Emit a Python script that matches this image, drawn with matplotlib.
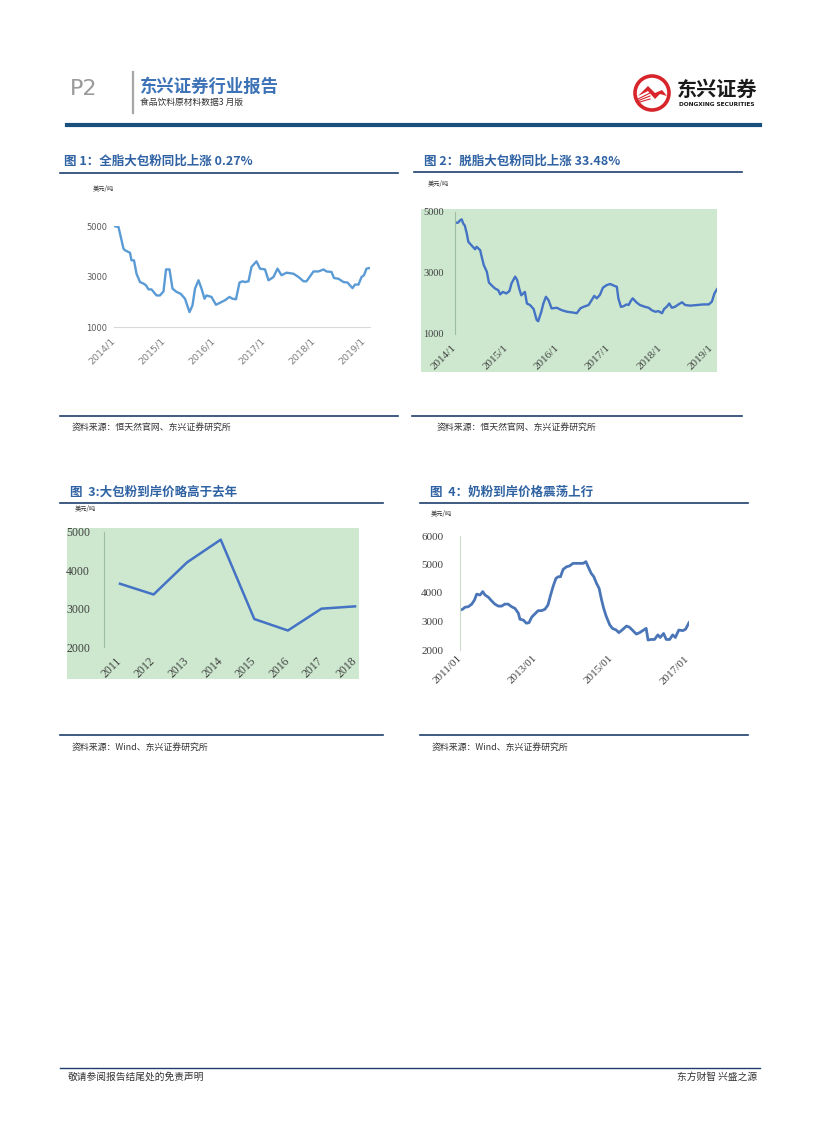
import matplotlib
matplotlib.use("Agg")
import matplotlib.pyplot as plt
from matplotlib.patches import Rectangle, Circle, Polygon

plt.rcParams['font.family'] = ['Noto Sans CJK SC', 'DejaVu Sans']

# 图1 全脂大包粉 (美元/吨)
wmp_t = [2014.0, 2014.09, 2014.19, 2014.22, 2014.32, 2014.35, 2014.4, 2014.45, 2014.52, 2014.59,
         2014.64, 2014.69, 2014.75, 2014.85, 2014.92, 2014.99, 2015.04, 2015.11, 2015.17, 2015.25,
         2015.33, 2015.42, 2015.51, 2015.57, 2015.62, 2015.69, 2015.75, 2015.81, 2015.85, 2015.95,
         2016.04, 2016.12, 2016.22, 2016.31, 2016.37, 2016.44, 2016.51, 2016.57, 2016.62, 2016.69,
         2016.75, 2016.85, 2016.92, 2017.02, 2017.09, 2017.19, 2017.27, 2017.35, 2017.45, 2017.59,
         2017.69, 2017.79, 2017.85, 2017.99, 2018.09, 2018.19, 2018.25, 2018.35, 2018.4, 2018.49,
         2018.59, 2018.67, 2018.72, 2018.77, 2018.82, 2018.89, 2018.95, 2019.0, 2019.05, 2019.12]
wmp_v = [5000, 4960, 4100, 4040, 3940, 3640, 3640, 3110, 2780, 2720,
         2650, 2490, 2490, 2250, 2250, 2410, 3280, 3280, 2520, 2390,
         2320, 2120, 1590, 1860, 2520, 2850, 2520, 2120, 2250, 2190,
         1880, 1960, 2060, 2190, 2120, 2100, 2760, 2810, 2780, 2810,
         3380, 3600, 3310, 3280, 2850, 2980, 3310, 3050, 3150, 3110,
         2980, 2810, 2810, 3200, 3200, 3280, 3200, 3180, 2940, 2910,
         2780, 2760, 2650, 2540, 2680, 2680, 2980, 3050, 3310, 3340]

# 图2 脱脂大包粉 (美元/吨)
smp_t = [2014.0, 2014.06, 2014.1, 2014.13, 2014.16, 2014.19, 2014.23, 2014.26, 2014.32, 2014.39,
         2014.42, 2014.49, 2014.52, 2014.56, 2014.62, 2014.66, 2014.71, 2014.78, 2014.84, 2014.88,
         2014.93, 2015.0, 2015.06, 2015.1, 2015.17, 2015.21, 2015.25, 2015.29, 2015.36, 2015.4,
         2015.46, 2015.53, 2015.59, 2015.62, 2015.68, 2015.72, 2015.77, 2015.82, 2015.88, 2015.98,
         2016.08, 2016.18, 2016.31, 2016.37, 2016.44, 2016.5, 2016.6, 2016.66, 2016.71, 2016.76,
         2016.82, 2016.88, 2016.95, 2017.02, 2017.1, 2017.15, 2017.18, 2017.23, 2017.28, 2017.34,
         2017.38, 2017.42, 2017.46, 2017.53, 2017.6, 2017.7, 2017.77, 2017.83, 2017.9, 2017.96,
         2018.03, 2018.07, 2018.12, 2018.17, 2018.22, 2018.28, 2018.35, 2018.42, 2018.48, 2018.58,
         2018.71, 2018.84, 2018.94, 2019.0, 2019.05, 2019.1]
smp_v = [4650, 4650, 4730, 4760, 4620, 4560, 4290, 4020, 3910, 3780,
         3860, 3750, 3530, 3260, 3040, 2690, 2600, 2490, 2440, 2300,
         2380, 2330, 2410, 2660, 2880, 2770, 2490, 2270, 2380, 2000,
         1950, 1820, 1460, 1420, 1730, 2000, 2220, 2110, 1840, 1860,
         1780, 1730, 1700, 1680, 1840, 1890, 1950, 2110, 2250, 2170,
         2280, 2520, 2600, 2640, 2580, 2550, 2170, 1890, 1910, 1970,
         1950, 2080, 2170, 2040, 1950, 1890, 1860, 1780, 1730, 1750,
         1680, 1820, 1890, 2000, 1860, 1890, 1970, 2040, 1950, 1930,
         1950, 1970, 1970, 2060, 2330, 2470]

# 图3 大包粉到岸价 (年度)
cif_years = ['2011', '2012', '2013', '2014', '2015', '2016', '2017', '2018']
cif_v = [3650, 3370, 4210, 4800, 2730, 2430, 3000, 3060]

# 图4 奶粉到岸价格
mp_t = [2011.0, 2011.07, 2011.13, 2011.22, 2011.31, 2011.38, 2011.44, 2011.53, 2011.6, 2011.66,
        2011.75, 2011.83, 2011.92, 2012.01, 2012.1, 2012.18, 2012.27, 2012.36, 2012.45, 2012.54,
        2012.58, 2012.67, 2012.75, 2012.82, 2012.89, 2012.97, 2013.06, 2013.15, 2013.24, 2013.32,
        2013.39, 2013.46, 2013.53, 2013.59, 2013.65, 2013.72, 2013.81, 2013.89, 2013.98, 2014.07,
        2014.16, 2014.25, 2014.32, 2014.38, 2014.46, 2014.53, 2014.6, 2014.67, 2014.73, 2014.79,
        2014.86, 2014.95, 2015.02, 2015.12, 2015.19, 2015.3, 2015.39, 2015.47, 2015.56, 2015.65,
        2015.74, 2015.82, 2015.91, 2015.96, 2016.04, 2016.13, 2016.22, 2016.28, 2016.37, 2016.44,
        2016.53, 2016.61, 2016.68, 2016.77, 2016.88, 2016.95, 2017.04]
mp_v = [3400, 3430, 3500, 3520, 3610, 3750, 3960, 3930, 4050, 3930,
        3850, 3730, 3610, 3540, 3540, 3610, 3610, 3520, 3460, 3290,
        3080, 3050, 2940, 2960, 3150, 3260, 3380, 3380, 3430, 3580,
        3930, 4250, 4510, 4570, 4570, 4830, 4920, 4950, 5040, 5040,
        5040, 5040, 5100, 4920, 4690, 4570, 4340, 4160, 3780, 3460,
        3170, 2880, 2760, 2700, 2610, 2730, 2840, 2800, 2680, 2560,
        2610, 2680, 2760, 2350, 2370, 2370, 2530, 2440, 2580, 2370,
        2370, 2530, 2440, 2700, 2680, 2730, 2960]

W, H = 827, 1122
fig = plt.figure(figsize=(W / 100, H / 100), dpi=100)

# page layer in pixel coordinates
pg = fig.add_axes([0, 0, 1, 1])
pg.set_xlim(0, W)
pg.set_ylim(H, 0)
pg.axis('off')

navy = '#1F3F6E'
title_blue = '#2F62A3'

# header
pg.text(70, 89, 'P2', fontsize=16, color='#9A9A9A', va='center', family='DejaVu Sans')
pg.plot([133, 133], [72, 113], color='#A6A6A6', lw=1.6)
pg.text(140, 87, '东兴证券行业报告', fontsize=12.5, fontweight='bold', color='#3C72B6', va='center')
pg.text(140, 102, '食品饮料原材料数据3 月版', fontsize=6.3, color='#333333', va='center')
pg.plot([67, 760], [124.5, 124.5], color='#1B4F7E', lw=3)

# logo
pg.add_patch(Circle((652, 93), 17, facecolor='white', edgecolor='#D7252B', lw=2.6))
pg.add_patch(Polygon([[638, 96], [648, 86], [655, 93], [662, 90], [667, 96], [660, 94], [655, 99], [648, 91]],
                     closed=True, facecolor='#D7252B', edgecolor='none'))
for dy in (0, 3, 6):
    pg.plot([638, 650], [99 + dy * 0.6, 93 + dy], color='#D7252B', lw=0.8)
pg.text(717, 89, '东兴证券', fontsize=14.5, fontweight='bold', color='#1A1A1A', ha='center', va='center')
pg.text(717, 104, 'DONGXING SECURITIES', fontsize=4.2, fontweight='bold', color='#1A1A1A',
        ha='center', va='center', family='DejaVu Sans')

# chart titles and rules
pg.text(64, 161, '图 1：全脂大包粉同比上涨 0.27%', fontsize=9, fontweight='bold', color=title_blue, va='center')
pg.plot([60, 398], [173, 173], color=navy, lw=1.2)
pg.text(424, 161, '图 2：脱脂大包粉同比上涨 33.48%', fontsize=9, fontweight='bold', color=title_blue, va='center')
pg.plot([414, 742], [172, 172], color=navy, lw=1.2)
pg.text(70, 492, '图  3:大包粉到岸价略高于去年', fontsize=9, fontweight='bold', color=title_blue, va='center')
pg.plot([60, 383], [503, 503], color=navy, lw=1.2)
pg.text(430, 492, '图  4：奶粉到岸价格震荡上行', fontsize=9, fontweight='bold', color=title_blue, va='center')
pg.plot([420, 748], [503, 503], color=navy, lw=1.2)

# units
for ux, uy in [(93, 189), (428, 184), (75, 509), (431, 514)]:
    pg.text(ux, uy, '美元/吨', fontsize=4.5, color='#333333', va='center')

# sources
pg.plot([60, 398], [416, 416], color=navy, lw=1.2)
pg.plot([412, 742], [416, 416], color=navy, lw=1.2)
pg.text(72, 428, '资料来源：恒天然官网、东兴证券研究所', fontsize=6.4, color='#333333', va='center', style='italic')
pg.text(437, 428, '资料来源：恒天然官网、东兴证券研究所', fontsize=6.4, color='#333333', va='center', style='italic')
pg.plot([60, 383], [735, 735], color=navy, lw=1.2)
pg.plot([420, 748], [735, 735], color=navy, lw=1.2)
pg.text(72, 748, '资料来源：Wind、东兴证券研究所', fontsize=6.4, color='#333333', va='center', style='italic')
pg.text(432, 748, '资料来源：Wind、东兴证券研究所', fontsize=6.4, color='#333333', va='center', style='italic')

# footer
pg.plot([60, 760], [1068, 1068], color=navy, lw=1)
pg.text(68, 1077, '敬请参阅报告结尾处的免责声明', fontsize=7, color='#333333', va='center')
pg.text(757, 1077, '东方财智 兴盛之源', fontsize=7, color='#333333', va='center', ha='right')

# green chart areas
green = '#CDE8CF'
pg.add_patch(Rectangle((421, 209), 296, 163, facecolor=green, edgecolor='none'))
pg.add_patch(Rectangle((67, 528), 292, 151, facecolor=green, edgecolor='none'))


def add_ax(left, top, right, bottom):
    ax = fig.add_axes([left / W, 1 - bottom / H, (right - left) / W, (bottom - top) / H])
    ax.set_facecolor('none')
    for s in ax.spines.values():
        s.set_visible(False)
    ax.tick_params(length=0)
    return ax


# chart 1
ax1 = add_ax(114, 226, 370, 327)
ax1.plot(wmp_t, wmp_v, color='#5B9BD5', lw=1.7)
ax1.set_xlim(2014.0, 2019.12)
ax1.set_ylim(1000, 5000)
ax1.set_yticks([1000, 3000, 5000])
ax1.set_yticklabels(['1000', '3000', '5000'], fontsize=6, color='#595959', family='DejaVu Sans')
ax1.set_xticks([2014, 2015, 2016, 2017, 2018, 2019])
ax1.set_xticklabels(['2014/1', '2015/1', '2016/1', '2017/1', '2018/1', '2019/1'], rotation=45,
                    ha='right', va='center', rotation_mode='anchor', fontsize=6.8, color='#7F7F7F',
                    family='DejaVu Sans')
ax1.tick_params(axis='y', pad=5)
ax1.tick_params(axis='x', pad=9)
ax1.spines['bottom'].set_visible(True)
ax1.spines['bottom'].set_color('#D9D9D9')

# chart 2
ax2 = add_ax(455, 212, 717, 334)
ax2.plot(smp_t, smp_v, color='#4472C4', lw=1.7)
ax2.set_xlim(2014.0, 2019.1)
ax2.set_ylim(1000, 5000)
ax2.set_yticks([1000, 3000, 5000])
ax2.set_yticklabels(['1000', '3000', '5000'], fontsize=7.5, color='#404040', family='Liberation Serif')
ax2.set_xticks([2014, 2015, 2016, 2017, 2018, 2019])
ax2.set_xticklabels(['2014/1', '2015/1', '2016/1', '2017/1', '2018/1', '2019/1'], rotation=45,
                    ha='right', va='center', rotation_mode='anchor', fontsize=8, color='#404040',
                    family='Liberation Serif')
ax2.tick_params(axis='y', pad=8)
ax2.tick_params(axis='x', pad=9)
ax2.spines['left'].set_visible(True)
ax2.spines['left'].set_color('#9DBF9F')

# chart 3
ax3 = add_ax(104, 532, 359, 647)
ax3.plot(range(len(cif_years)), cif_v, color='#4472C4', lw=1.8)
ax3.set_xlim(-0.476, 7.118)
ax3.set_ylim(2000, 5000)
ax3.set_yticks([2000, 3000, 4000, 5000])
ax3.set_yticklabels(['2000', '3000', '4000', '5000'], fontsize=8.5, color='#404040', family='Liberation Serif')
ax3.set_xticks(range(len(cif_years)))
ax3.set_xticklabels(cif_years, rotation=45, ha='right', va='center', rotation_mode='anchor',
                    fontsize=8.5, color='#404040', family='Liberation Serif')
ax3.tick_params(axis='y', pad=10)
ax3.tick_params(axis='x', pad=9)
ax3.spines['left'].set_visible(True)
ax3.spines['left'].set_color('#9DBF9F')

# chart 4
ax4 = add_ax(460, 536, 689, 650)
ax4.plot(mp_t, mp_v, color='#4A76B8', lw=2)
ax4.set_xlim(2011.0, 2017.04)
ax4.set_ylim(2000, 6000)
ax4.set_yticks([2000, 3000, 4000, 5000, 6000])
ax4.set_yticklabels(['2000', '3000', '4000', '5000', '6000'], fontsize=8, color='#404040', family='Liberation Serif')
ax4.set_xticks([2011, 2013, 2015, 2017])
ax4.set_xticklabels(['2011/01', '2013/01', '2015/01', '2017/01'], rotation=45, ha='right', va='center',
                    rotation_mode='anchor', fontsize=8, color='#404040', family='Liberation Serif')
ax4.tick_params(axis='y', pad=12)
ax4.tick_params(axis='x', pad=5)
ax4.spines['left'].set_visible(True)
ax4.spines['left'].set_color('#C9DCC9')

fig.savefig('out.png', dpi=100)
